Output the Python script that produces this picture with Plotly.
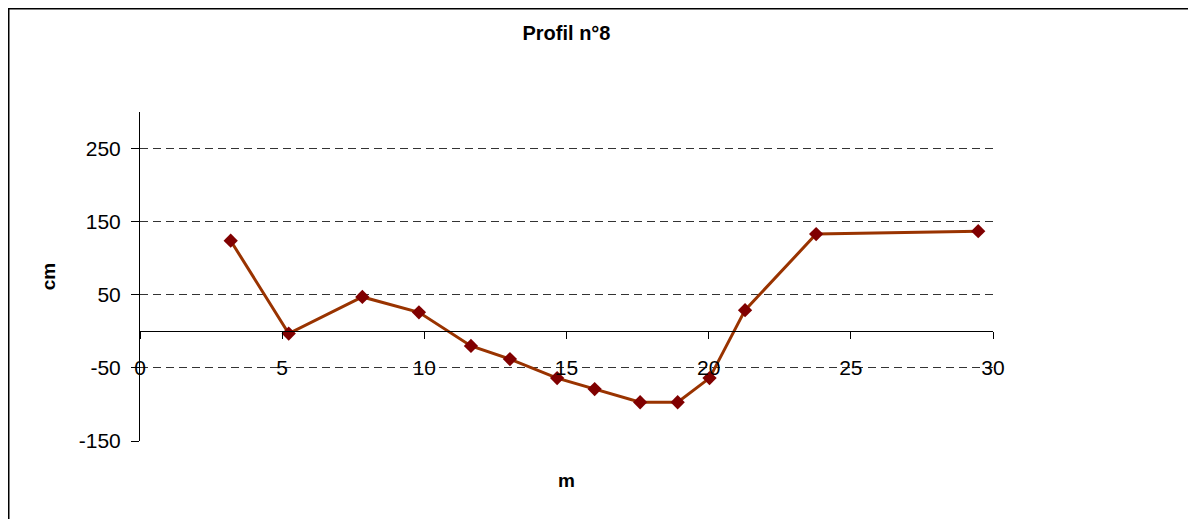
import plotly.graph_objects as go

# Data
distance_m = [3.19, 5.23, 7.82, 9.81, 11.64, 13.01, 14.67, 15.99, 17.59, 18.91, 20.03, 21.28, 23.78, 29.48]
depth_cm = [124, -3, 47, 26, -20, -38, -64, -79, -97, -97, -64, 29, 133, 137]

title_text = "Profil n°8"
x_title = "m"
y_title = "cm"
x_range = [0, 30]
y_range = [-150, 300]
x_tick_vals = [0, 5, 10, 15, 20, 25, 30]
y_tick_vals = [-150, -50, 50, 150, 250]

# The page body has an 8px margin, so the figure starts at (8, 8)
W, H = 1188, 511
ML, MR, MT, MB = 132, 203, 104, 78
PW, PH = W - ML - MR, H - MT - MB


def fx(px):
    return (px - ML) / PW


def fy(py):
    return (H - MB - py) / PH


FONT = "Arial, Liberation Sans, sans-serif"

fig = go.Figure()
fig.add_trace(go.Scatter(
    x=distance_m, y=depth_cm, mode="lines+markers",
    line=dict(color="#993300", width=3),
    marker=dict(symbol="diamond", size=11, color="#800000",
                line=dict(color="#800000", width=0)),
    showlegend=False,
))

zero_pos = (0 - y_range[0]) / (y_range[1] - y_range[0])

fig.update_layout(
    width=W, height=H,
    margin=dict(l=ML, r=MR, t=MT, b=MB, pad=0),
    paper_bgcolor="white", plot_bgcolor="white",
    font=dict(family=FONT, color="black"),
    title=dict(text="<b>" + title_text + "</b>", x=0.5, xref="paper",
               y=1 - 25 / H, yref="container", yanchor="middle", xanchor="center",
               font=dict(size=20, family=FONT, color="black")),
    xaxis=dict(
        range=x_range, tickmode="array", tickvals=x_tick_vals,
        ticktext=[str(v) for v in x_tick_vals],
        showgrid=False, zeroline=False,
        showline=True, linecolor="black", linewidth=1,
        ticks="outside", ticklen=7, tickcolor="black", tickwidth=1,
        anchor="free", position=zero_pos,
        ticklabelstandoff=10,
        tickfont=dict(size=21, family=FONT, color="black"),
        title=dict(text="<b>" + x_title + "</b>", standoff=96,
                   font=dict(size=19, family=FONT, color="black")),
    ),
    yaxis=dict(
        range=y_range, tickmode="array", tickvals=y_tick_vals,
        ticktext=[str(v) for v in y_tick_vals],
        showgrid=True, gridcolor="#333333", gridwidth=1, griddash="8px,5px",
        zeroline=False,
        showline=True, linecolor="black", linewidth=1,
        ticks="outside", ticklen=8, tickcolor="black", tickwidth=1,
        ticklabelstandoff=6,
        tickfont=dict(size=21, family=FONT, color="black"),
        title=dict(text="<b>" + y_title + "</b>", standoff=18,
                   font=dict(size=19, family=FONT, color="black")),
    ),
    shapes=[
        dict(type="line", xref="paper", yref="paper",
             x0=fx(0), x1=fx(W), y0=fy(0.75), y1=fy(0.75),
             line=dict(color="black", width=1.5)),
        dict(type="line", xref="paper", yref="paper",
             x0=fx(0.75), x1=fx(0.75), y0=fy(0), y1=fy(H),
             line=dict(color="black", width=1.5)),
        dict(type="line", xref="paper", yref="paper",
             x0=fx(W - 1.5), x1=fx(W - 1.5), y0=fy(0), y1=fy(H),
             line=dict(color="#d0d0d0", width=1)),
    ],
)

fig.write_html("out.html")
